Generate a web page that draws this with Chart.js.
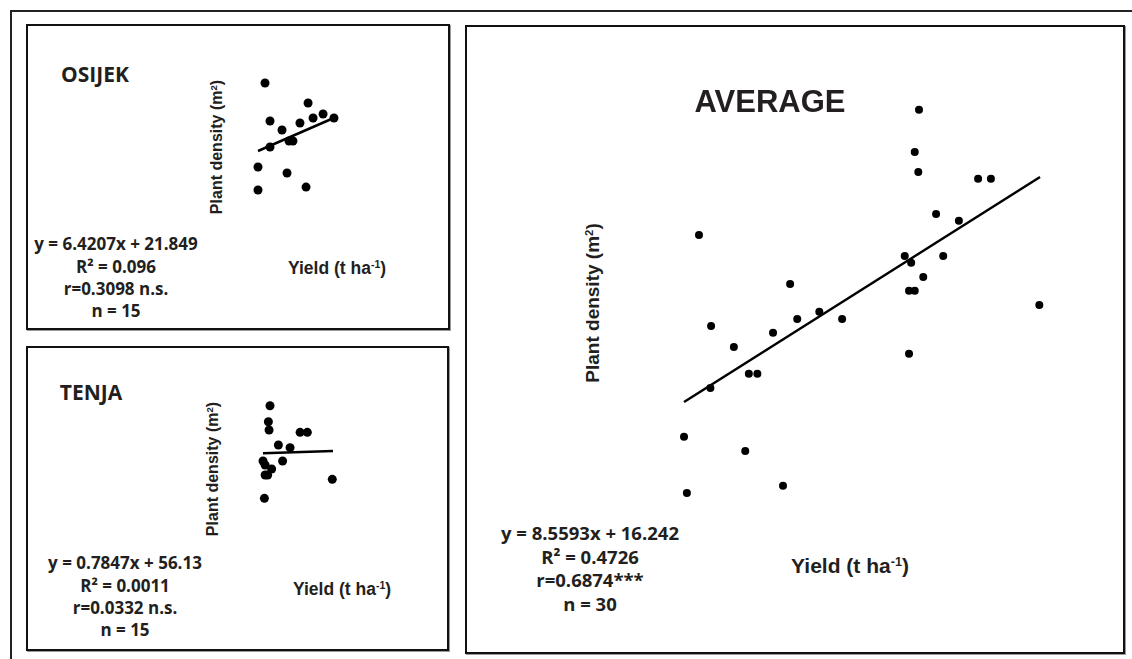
<!DOCTYPE html>
<html>
<head>
<meta charset="utf-8">
<script src="https://cdn.jsdelivr.net/npm/chart.js@4.4.1/dist/chart.umd.min.js"></script>
<style>
  html, body { margin:0; padding:0; background:#fff; }
  body { width:1132px; height:659px; position:relative; overflow:hidden; }
  .abs { position:absolute; }
  .frameTop { left:10px; top:10px; width:1122px; height:2px; background:#222; }
  .frameLeft { left:10px; top:10px; width:2px; height:649px; background:#222; }
  .panel { position:absolute; box-sizing:border-box; border:2px solid #111; box-shadow: 1px 1px 0 #999; }
  .t { position:absolute; transform:translate(-50%,-50%); white-space:nowrap; color:#231f20; }
  .title { font-family:"Open Sans", sans-serif; font-weight:700; font-size:21px; }
  .big { font-family:"Liberation Sans", Arial, sans-serif; font-weight:700; font-size:31px; }
  .eq { font-family:"Open Sans", sans-serif; font-weight:700; font-size:17px; }
  .eqBig { font-family:"Open Sans", sans-serif; font-weight:700; font-size:18.5px; }
  .ax { font-family:"Liberation Sans", Arial, sans-serif; font-weight:700; font-size:16px; }
  .axBig { font-family:"Liberation Sans", Arial, sans-serif; font-weight:700; font-size:19px; }
  .axX { font-family:"Liberation Sans", Arial, sans-serif; font-weight:700; font-size:17.5px; }
  .axXBig { font-family:"Liberation Sans", Arial, sans-serif; font-weight:700; font-size:21px; }
  .rot { transform:translate(-50%,-50%) rotate(-90deg); }
  sup { font-size:0.6em; vertical-align:0.55em; line-height:0; }
  canvas { position:absolute; }
</style>
</head>
<body>
<div class="abs frameTop"></div>
<div class="abs frameLeft"></div>

<div class="panel" style="left:26px;top:24px;width:424px;height:306px;"></div>
<div class="panel" style="left:26px;top:346px;width:423px;height:305px;"></div>
<div class="panel" style="left:465px;top:25px;width:660px;height:629px;"></div>

<canvas id="cOsijek" width="115" height="135" style="left:240px;top:70px;"></canvas>
<canvas id="cTenja" width="115" height="125" style="left:240px;top:390px;"></canvas>
<canvas id="cAverage" width="428" height="420" style="left:648px;top:90px;"></canvas>

<div id="labels"></div>

<script>
// ---------- DATA ----------
const panelTitles = ["OSIJEK", "TENJA", "AVERAGE"];

// OSIJEK (n = 15)
const osijekYield   = [5.45, 8.21, 5.77, 6.54, 7.69, 8.53, 9.17, 9.87, 5.77, 6.99, 7.24, 5.00, 6.86, 5.00, 8.08];
const osijekDensity = [118.2, 99.3, 82.3, 73.8, 80.4, 85.1, 88.9, 85.1, 57.7, 63.4, 63.4, 38.8, 33.2, 17.1, 19.9];
const osijekTrendYield   = [5.00, 10.00];
const osijekTrendDensity = [53.95, 86.06];
const osijekStats = ["y = 6.4207x + 21.849", "R\u00B2 = 0.096", "r=0.3098 n.s.", "n = 15"];

// TENJA (n = 15)
const tenjaYield   = [7.30, 7.23, 7.26, 8.59, 8.90, 7.66, 8.16, 7.00, 7.84, 7.09, 7.37, 7.09, 7.20, 9.97, 7.06];
const tenjaDensity = [110.3, 93.9, 85.5, 83.1, 83.1, 70.1, 67.4, 53.7, 53.7, 49.6, 45.5, 39.4, 39.4, 35.0, 15.5];
const tenjaTrendYield   = [7.00, 10.00];
const tenjaTrendDensity = [61.62, 63.98];
const tenjaStats = ["y = 0.7847x + 56.13", "R\u00B2 = 0.0011", "r=0.0332 n.s.", "n = 15"];

// AVERAGE (n = 30)
const averageYield   = [8.30, 8.24, 8.29, 9.13, 9.31, 8.54, 8.86, 8.10, 8.64, 8.19,
                        8.36, 8.16, 8.24, 9.99, 8.16, 5.21, 6.49, 5.38, 5.70, 6.25,
                        6.59, 6.90, 7.22, 5.91, 6.03, 5.37, 5.00, 5.86, 6.39, 5.04];
const averageDensity = [114.6, 106.6, 102.8, 101.5, 101.5, 94.8, 93.5, 86.8, 86.8, 85.5,
                        82.8, 80.2, 80.2, 77.5, 68.2, 90.8, 81.5, 73.5, 69.5, 72.2,
                        74.8, 76.2, 74.8, 64.4, 64.4, 61.7, 52.4, 49.7, 43.1, 41.7];
const averageTrendYield   = [5.00, 10.00];
const averageTrendDensity = [59.04, 101.84];
const averageStats = ["y = 8.5593x + 16.242", "R\u00B2 = 0.4726", "r=0.6874***", "n = 30"];

const xAxisTitle = "Yield (t ha<sup>-1</sup>)";
const yAxisTitle = "Plant density (m<sup>2</sup>)";

// ---------- LABELS ----------
const L = document.getElementById('labels');
function label(html, cls, x, y) {
  const d = document.createElement('div');
  d.className = 't ' + cls;
  d.style.left = x + 'px';
  d.style.top = y + 'px';
  d.innerHTML = html;
  L.appendChild(d);
}
label(panelTitles[0], 'title', 95, 74);
label(panelTitles[1], 'title', 91, 392);
label(panelTitles[2], 'big', 770, 102);

[243, 266, 288, 310].forEach((y, i) => label(osijekStats[i], 'eq', 116, y));
[562, 585, 607, 629].forEach((y, i) => label(tenjaStats[i], 'eq', 125, y));
[532, 556, 579, 603].forEach((y, i) => label(averageStats[i], 'eqBig', 590, y));

label(xAxisTitle, 'axX', 337, 268);
label(xAxisTitle, 'axX', 342, 589);
label(xAxisTitle, 'axXBig', 850, 566);
label(yAxisTitle, 'ax rot', 217, 147);
label(yAxisTitle, 'ax rot', 213, 469);
label(yAxisTitle, 'axBig rot', 593, 303);

// ---------- CHARTS ----------
function pts(xs, ys) { return xs.map((x, i) => ({ x: x, y: ys[i] })); }
function makeChart(id, xs, ys, tx, ty, r, lw, xr, yr) {
  new Chart(document.getElementById(id), {
    type: 'scatter',
    data: {
      datasets: [
        { data: pts(tx, ty), showLine: true, borderColor: '#000', borderWidth: lw,
          pointRadius: 0, fill: false, clip: false },
        { data: pts(xs, ys), pointRadius: r, pointHoverRadius: r, backgroundColor: '#000',
          borderColor: '#000', borderWidth: 0, clip: false }
      ]
    },
    options: {
      responsive: false, animation: false, devicePixelRatio: 1,
      layout: { padding: 0, autoPadding: false },
      plugins: { legend: { display: false }, tooltip: { enabled: false } },
      events: [],
      scales: {
        x: { type: 'linear', display: false, min: xr[0], max: xr[1] },
        y: { type: 'linear', display: false, min: yr[0], max: yr[1] }
      }
    }
  });
}
makeChart('cOsijek', osijekYield, osijekDensity, osijekTrendYield, osijekTrendDensity, 4.5, 2.5, [3.846, 11.218], [2.96, 130.44]);
makeChart('cTenja', tenjaYield, tenjaDensity, tenjaTrendYield, tenjaTrendDensity, 4.5, 2.5, [6.014, 10.943], [-1.53, 126.41]);
makeChart('cAverage', averageYield, averageDensity, averageTrendYield, averageTrendDensity, 4, 2.5, [4.494, 10.505], [38.49, 118.38]);
</script>
</body>
</html>
